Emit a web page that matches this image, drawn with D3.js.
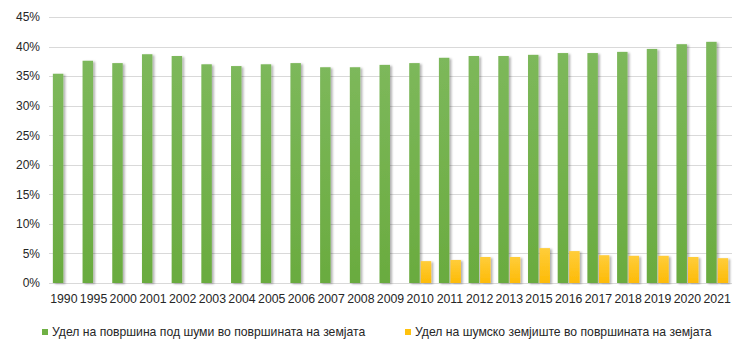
<!DOCTYPE html>
<html>
<head>
<meta charset="utf-8">
<script src="https://cdn.jsdelivr.net/npm/d3@7"></script>
<style>
  body { margin: 0; background: #fff; }
  svg text { font-family: "Liberation Sans", Arial, sans-serif; fill: #262626; }
</style>
</head>
<body>
<div id="chart"></div>
<script>
// categories (years)
const years = ['1990','1995','2000','2001','2002','2003','2004','2005','2006','2007','2008','2009',
  '2010','2011','2012','2013','2015','2016','2017','2018','2019','2020','2021'];

// share of forest area in land area (%)
const forestShare = [35.4,37.6,37.2,38.7,38.4,37.0,36.7,37.0,37.2,36.5,36.5,36.9,
  37.2,38.1,38.4,38.4,38.6,38.9,38.9,39.1,39.6,40.4,40.8];

// share of forest land in land area (%), only from 2010
const landShare = [null,null,null,null,null,null,null,null,null,null,null,null,
  3.7,3.9,4.4,4.4,5.9,5.4,4.7,4.6,4.6,4.4,4.2];

const yTicks = [0,5,10,15,20,25,30,35,40,45];
const seriesNames = ['Удел на површина под шуми во површината на земјата',
  'Удел на шумско земјиште во површината на земјата'];

const W = 750, H = 352;
const MARGIN = {top: 17, right: 18, bottom: 69, left: 49};

const svg = d3.select('#chart').append('svg')
  .attr('width', W).attr('height', H);

const defs = svg.append('defs');
const gGreen = defs.append('linearGradient').attr('id','gGreen').attr('x1',0).attr('y1',0).attr('x2',0).attr('y2',1);
gGreen.append('stop').attr('offset','0%').attr('stop-color','#7db85b');
gGreen.append('stop').attr('offset','100%').attr('stop-color','#6aab3f');
const gYellow = defs.append('linearGradient').attr('id','gYellow').attr('x1',0).attr('y1',0).attr('x2',0).attr('y2',1);
gYellow.append('stop').attr('offset','0%').attr('stop-color','#ffcd3a');
gYellow.append('stop').attr('offset','100%').attr('stop-color','#fdbb07');
const shadow = defs.append('filter').attr('id','shadow')
  .attr('x','-20%').attr('y','-5%').attr('width','160%').attr('height','110%');
shadow.append('feDropShadow').attr('dx',2).attr('dy',1).attr('stdDeviation',1)
  .attr('flood-color','#000').attr('flood-opacity',0.3);

const x0 = d3.scaleBand()
  .domain(years)
  .range([MARGIN.left, W - MARGIN.right])
  .paddingInner(0.26).paddingOuter(0.13);

const x1 = d3.scaleBand()
  .domain(['forest','land'])
  .range([0, x0.bandwidth()])
  .paddingInner(0.09);

const y = d3.scaleLinear()
  .domain([0,45])
  .range([H - MARGIN.bottom, MARGIN.top]);

// gridlines
svg.append('g')
  .selectAll('line')
  .data(yTicks)
  .enter().append('line')
  .attr('x1', MARGIN.left).attr('x2', W - MARGIN.right)
  .attr('y1', d => Math.round(y(d)) + 0.5).attr('y2', d => Math.round(y(d)) + 0.5)
  .attr('stroke', '#d9d9d9').attr('stroke-width', 1);

// y axis labels
const yAxis = svg.append('g')
  .attr('transform', `translate(${MARGIN.left},0)`)
  .call(d3.axisLeft(y).tickValues(yTicks).tickFormat(d => d + '%').tickSize(0).tickPadding(9));
yAxis.select('.domain').remove();
yAxis.selectAll('text').style('font-size','12px').style('font-family','"Liberation Sans", Arial, sans-serif').attr('fill','#333');

// x axis labels
const xAxis = svg.append('g')
  .attr('transform', `translate(0,${H - MARGIN.bottom})`)
  .call(d3.axisBottom(x0).tickSize(0).tickPadding(11));
xAxis.select('.domain').remove();
xAxis.selectAll('text').style('font-size','12.3px').style('font-family','"Liberation Sans", Arial, sans-serif').attr('fill','#1a1a1a');

// bars
const groups = svg.append('g')
  .selectAll('g')
  .data(years)
  .enter().append('g')
  .attr('transform', d => `translate(${x0(d)},0)`);

groups.append('rect')
  .attr('x', x1('forest'))
  .attr('width', x1.bandwidth())
  .attr('y', (d, i) => y(forestShare[i]))
  .attr('height', (d, i) => y(0) - y(forestShare[i]))
  .attr('fill', 'url(#gGreen)')
  .attr('filter', 'url(#shadow)');

groups.filter((d, i) => landShare[i] != null)
  .append('rect')
  .attr('x', x1('land'))
  .attr('width', x1.bandwidth())
  .attr('y', d => y(landShare[years.indexOf(d)]))
  .attr('height', d => y(0) - y(landShare[years.indexOf(d)]))
  .attr('fill', 'url(#gYellow)')
  .attr('filter', 'url(#shadow)');

// legend
const legendPos = [42, 405];
const legendColors = ['#6fb044', '#ffc20e'];
const legend = svg.append('g')
  .selectAll('g')
  .data(seriesNames)
  .enter().append('g')
  .attr('transform', (d, i) => `translate(${legendPos[i]},332)`);
legend.append('rect')
  .attr('x', 0).attr('y', -3).attr('width', 6).attr('height', 6)
  .attr('fill', (d, i) => legendColors[i]);
legend.append('text')
  .attr('x', 10).attr('y', 0).attr('dy', '0.35em')
  .style('font-size', '12.2px')
  .text(d => d);
</script>
</body>
</html>
